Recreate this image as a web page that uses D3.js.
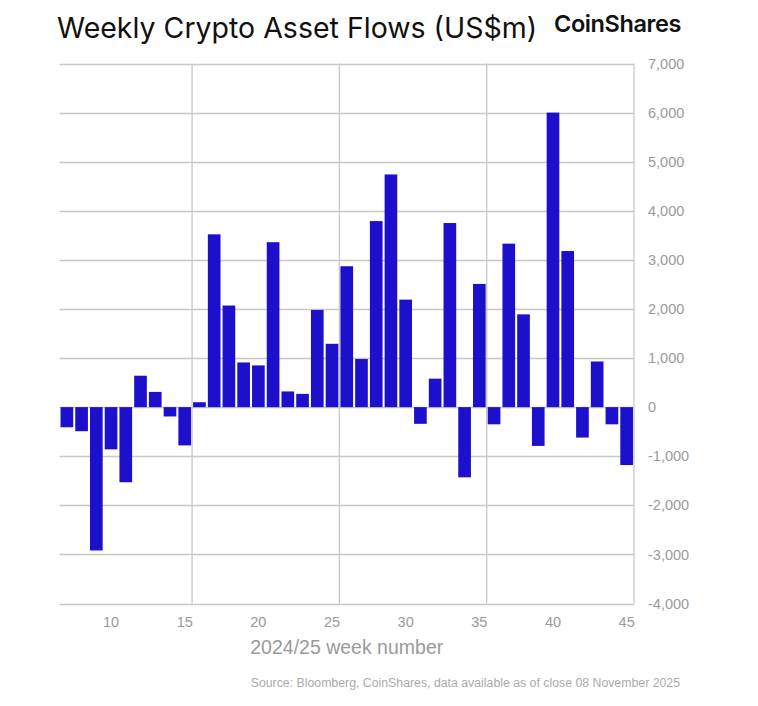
<!DOCTYPE html>
<html>
<head>
<meta charset="utf-8">
<script src="https://cdn.jsdelivr.net/npm/d3@7"></script>
<style>
  body { margin: 0; background: #fff; }
  text { font-family: "Liberation Sans", Arial, sans-serif; }
</style>
</head>
<body>
<div id="chart"></div>
<script>
var Width = 758;
var Height = 706;

// weeks 7..45 and net flows in US$m
var weeks = d3.range(7, 46);
var flows = [
  -410, -490, -2920, -860, -1530, 640, 310, -190, -780, 100,
  3520, 2070, 910, 850, 3360, 320, 270, 1980, 1290, 2870,
  980, 3790, 4740, 2190, -340, 580, 3750, -1430, 2510, -350,
  3330, 1890, -790, 6000, 3180, -620, 930, -350, -1180
];
var yTicks = [-4000, -3000, -2000, -1000, 0, 1000, 2000, 3000, 4000, 5000, 6000, 7000];
var xTicks = [10, 15, 20, 25, 30, 35, 40, 45];
var xGridAfter = [15, 25, 35, 45];

var dataset = weeks.map(function (w, i) { return { week: w, value: flows[i] }; });

// plot area
var pLeft = 59.5, pRight = 634, pTop = 63.5, pBottom = 603.5;

var svg = d3.select("#chart").append("svg")
  .attr("width", Width)
  .attr("height", Height);

var x = d3.scaleBand()
  .domain(weeks)
  .range([pLeft, pRight])
  .paddingInner(0.14)
  .paddingOuter(0.07);

var y = d3.scaleLinear()
  .domain([-4000, 7000])
  .range([pBottom, pTop]);

// horizontal gridlines
svg.append("g")
  .selectAll("line")
  .data(yTicks)
  .enter()
  .append("line")
  .attr("x1", pLeft)
  .attr("x2", pRight)
  .attr("y1", function (d) { return Math.round(y(d)) + 0.5; })
  .attr("y2", function (d) { return Math.round(y(d)) + 0.5; })
  .attr("stroke", "#c8c8c8")
  .attr("stroke-width", 1.3);

// vertical gridlines at band boundaries
var step = x.step();
svg.append("g")
  .selectAll("line")
  .data(xGridAfter)
  .enter()
  .append("line")
  .attr("x1", function (d) { return x(d) + x.bandwidth() + step * 0.07; })
  .attr("x2", function (d) { return x(d) + x.bandwidth() + step * 0.07; })
  .attr("y1", pTop)
  .attr("y2", pBottom)
  .attr("stroke", "#c8c8c8")
  .attr("stroke-width", 1.3);

// bars
svg.append("g")
  .selectAll("rect")
  .data(dataset)
  .enter()
  .append("rect")
  .attr("x", function (d) { return x(d.week); })
  .attr("width", x.bandwidth())
  .attr("y", function (d) { return y(Math.max(0, d.value)); })
  .attr("height", function (d) { return Math.abs(y(d.value) - y(0)); })
  .attr("fill", "#1c10cc");

// y axis labels on the right (plain hyphen for negatives)
var fmt = d3.format(",");
var yAxis = d3.axisRight(y)
  .tickValues(yTicks)
  .tickSize(0)
  .tickPadding(0)
  .tickFormat(function (d) { return fmt(d).replace("\u2212", "-"); });
var gy = svg.append("g")
  .attr("transform", "translate(648,0)")
  .call(yAxis);
gy.select(".domain").remove();
gy.selectAll("text")
  .attr("fill", "#9a9a9a")
  .style("font-size", "14.5px")
  .style("font-family", "Liberation Sans, Arial, sans-serif");

// x axis labels
var xAxis = d3.axisBottom(x)
  .tickValues(xTicks)
  .tickSize(0)
  .tickPadding(0);
var gx = svg.append("g")
  .attr("transform", "translate(0,617)")
  .call(xAxis);
gx.select(".domain").remove();
gx.selectAll("text")
  .attr("fill", "#9a9a9a")
  .style("font-size", "14.5px")
  .style("font-family", "Liberation Sans, Arial, sans-serif");

// axis title
svg.append("text")
  .attr("x", (pLeft + pRight) / 2)
  .attr("y", 654)
  .attr("text-anchor", "middle")
  .attr("fill", "#9a9a9a")
  .style("font-size", "19.5px")
  .text("2024/25 week number");

// chart title
svg.append("text")
  .attr("x", 57)
  .attr("y", 38)
  .attr("fill", "#111")
  .style("font-family", "Inter, 'Liberation Sans', sans-serif")
  .style("font-size", "28.5px")
  .text("Weekly Crypto Asset Flows (US$m)");

// logo text
svg.append("text")
  .attr("x", 554)
  .attr("y", 32)
  .attr("fill", "#111")
  .style("font-family", "Inter, 'Liberation Sans', sans-serif")
  .style("font-size", "23.5px")
  .style("font-weight", "600")
  .style("letter-spacing", "-0.4px")
  .text("CoinShares");

// source note
svg.append("text")
  .attr("x", 680)
  .attr("y", 687)
  .attr("text-anchor", "end")
  .attr("fill", "#aaaaaa")
  .style("font-size", "12.3px")
  .text("Source: Bloomberg, CoinShares, data available as of close 08 November 2025");
</script>
</body>
</html>
